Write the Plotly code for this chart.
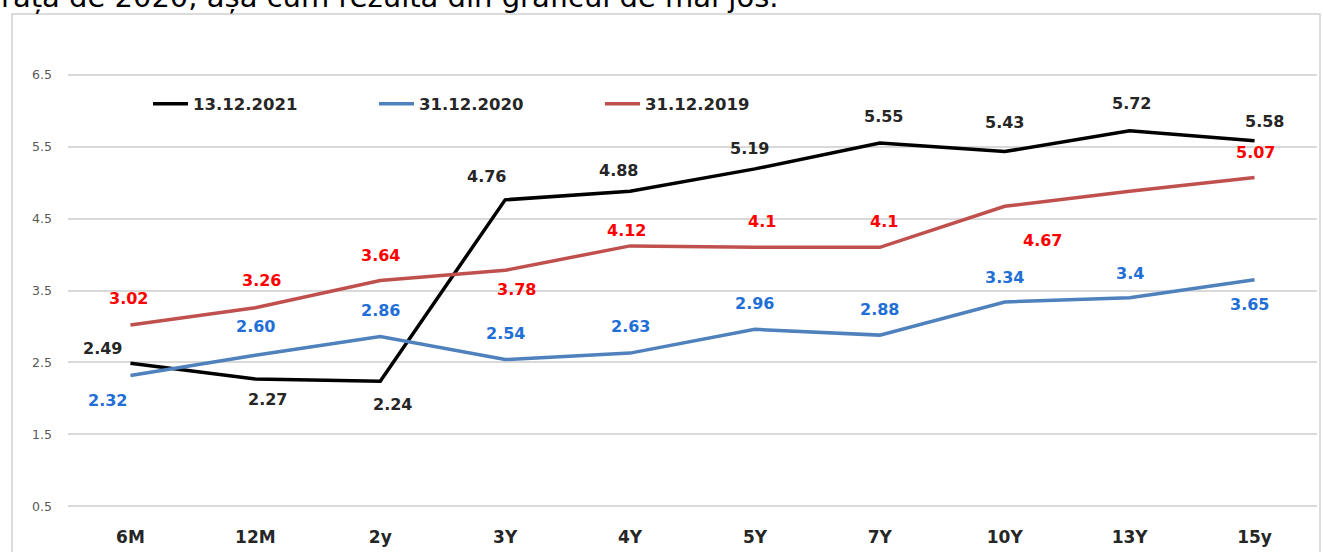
import plotly.graph_objects as go

categories = ["6M", "12M", "2y", "3Y", "4Y", "5Y", "7Y", "10Y", "13Y", "15y"]
y_2021 = [2.49, 2.27, 2.24, 4.76, 4.88, 5.19, 5.55, 5.43, 5.72, 5.58]
y_2020 = [2.32, 2.60, 2.86, 2.54, 2.63, 2.96, 2.88, 3.34, 3.40, 3.65]
y_2019 = [3.02, 3.26, 3.64, 3.78, 4.12, 4.10, 4.10, 4.67, 4.88, 5.07]
labels_2021 = ["2.49", "2.27", "2.24", "4.76", "4.88", "5.19", "5.55", "5.43", "5.72", "5.58"]
labels_2020 = ["2.32", "2.60", "2.86", "2.54", "2.63", "2.96", "2.88", "3.34", "3.4", "3.65"]
labels_2019 = ["3.02", "3.26", "3.64", "3.78", "4.12", "4.1", "4.1", "4.67", "", "5.07"]
y_ticks = [0.5, 1.5, 2.5, 3.5, 4.5, 5.5, 6.5]
series_names = ["13.12.2021", "31.12.2020", "31.12.2019"]

# label offsets in pixels (dx, dy) -- styling only
off_2021 = [(-28, 15), (12, -20), (12, -23), (-19, 23), (-12, 21), (-5, 20), (4, 26), (0, 29), (2, 27), (10, 19)]
off_2020 = [(-23, -25), (0, 29), (0, 26), (0, 26), (0, 27), (0, 26), (0, 26), (0, 25), (0, 24), (-5, -25)]
off_2019 = [(-2, 27), (6, 27), (0, 25), (11, -19), (-4, 15), (7, 26), (4, 26), (38, -34), (0, 0), (1, 25)]

line_colors = ["#000000", "#4f81bd", "#c0504d"]
label_colors = ["#262626", "#1f6fd6", "#ff0000"]

W, H = 1323, 552
ML, MR, MT, MB = 68, 6, 71, 42
PW, PH = W - ML - MR, H - MT - MB


def px(x):
    return (x - ML) / PW


def py(y):
    return (H - MB - y) / PH


fig = go.Figure()
for name, ys, col in zip(series_names, [y_2021, y_2020, y_2019], line_colors):
    fig.add_trace(go.Scatter(x=categories, y=ys, mode="lines", name=name,
                             line=dict(color=col, width=3.5)))

annotations = []
for ys, labs, offs, col in zip([y_2021, y_2020, y_2019], [labels_2021, labels_2020, labels_2019],
                              [off_2021, off_2020, off_2019], label_colors):
    for c, v, lab, (dx, dy) in zip(categories, ys, labs, offs):
        if not lab:
            continue
        annotations.append(dict(x=c, y=v, xref="x", yref="y", text=lab, showarrow=False,
                                xshift=dx, yshift=dy, xanchor="center", yanchor="middle",
                                font=dict(family="DejaVu Sans", size=16, color=col, weight="bold")))

annotations.append(dict(x=px(-1), y=py(-3), xref="paper", yref="paper", xanchor="left", yanchor="middle",
                        text="rața de 2020, așa cum rezultă din graficul de mai jos.", showarrow=False,
                        font=dict(family="DejaVu Sans", size=29, color="#000000")))

fig.update_layout(
    width=W, height=H,
    margin=dict(l=ML, r=MR, t=MT, b=MB),
    paper_bgcolor="white", plot_bgcolor="white",
    showlegend=True,
    legend=dict(orientation="h", x=px(148), y=py(104), xanchor="left", yanchor="middle",
                entrywidthmode="pixels", entrywidth=176, itemwidth=35, bgcolor="rgba(0,0,0,0)",
                font=dict(family="DejaVu Sans", size=16.5, color="#262626", weight="bold")),
    xaxis=dict(type="category", range=[-0.5, 9.5], showgrid=False, zeroline=False, showline=False,
               tickfont=dict(family="DejaVu Sans", size=17, color="#262626", weight="bold"),
               ticks="", ticklabelstandoff=15),
    yaxis=dict(range=[0.45, 6.55], tickvals=y_ticks, ticktext=[str(t) for t in y_ticks],
               showgrid=True, gridcolor="#d9d9d9", gridwidth=1.5, zeroline=False, showline=False,
               tickfont=dict(family="DejaVu Sans", size=12.5, color="#595959"),
               ticks="", ticklabelstandoff=15),
    annotations=annotations,
    shapes=[dict(type="rect", xref="paper", yref="paper", x0=px(12), x1=px(1320), y0=py(620), y1=py(14),
                 line=dict(color="#d0d0d0", width=1.5), fillcolor="rgba(0,0,0,0)", layer="below")],
)

fig.write_html("out.html", config={"displayModeBar": False},
               post_script="document.body.style.margin='0';")
